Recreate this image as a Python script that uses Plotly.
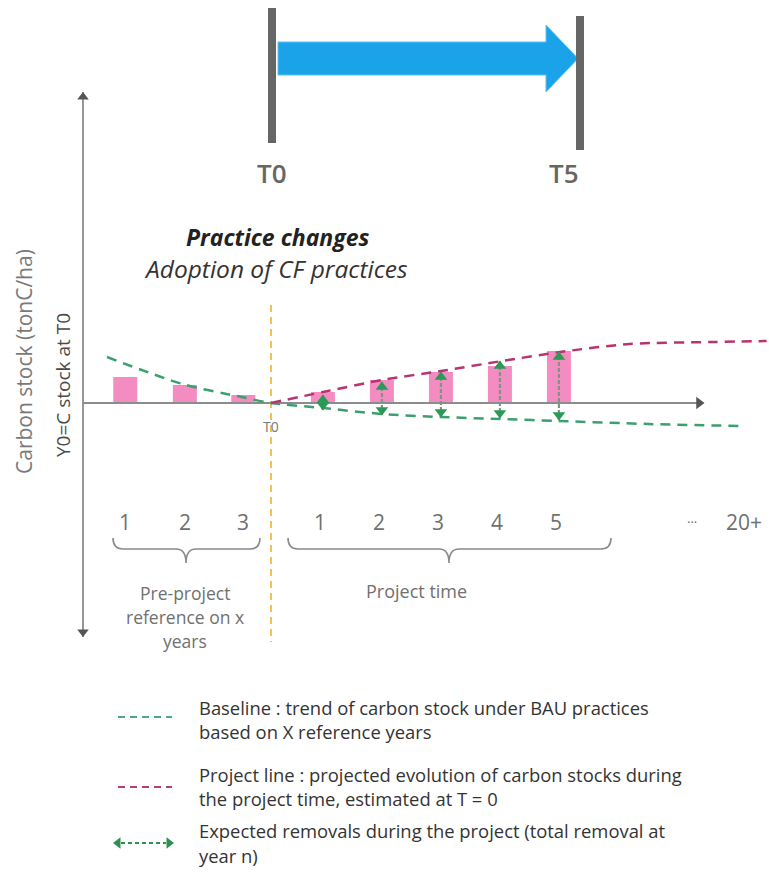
import plotly.graph_objects as go

# ---------------- data ----------------
pre_labels = ["1", "2", "3"]
pre_x = [-2.47, -1.46, -0.47]
pre_stock = [2.6, 1.8, 0.8]

proj_labels = ["1", "2", "3", "4", "5"]
proj_x = [0.88, 1.88, 2.88, 3.88, 4.88]
proj_stock = [1.1, 2.3, 3.1, 3.7, 5.2]

baseline_x = [-2.78, -1.5, -0.5, 0.0, 0.88, 1.88, 2.88, 3.88, 4.88, 6.4, 7.98]
baseline_y = [4.6, 1.9, 0.6, 0.0, -0.5, -1.1, -1.4, -1.6, -1.8, -2.1, -2.3]

project_x = [0.0, 0.88, 1.88, 2.88, 3.92, 4.9, 6.08, 7.49, 8.4]
project_y = [0.0, 1.1, 2.3, 3.2, 4.2, 5.1, 5.9, 6.1, 6.2]

removal_low = [-0.7, -1.2, -1.4, -1.5, -1.7]
removal_high = [0.8, 2.1, 3.1, 4.2, 5.1]

far_labels = ["...", "20+"]
far_x = [7.14, 8.02]

legend_texts = [
    ["Baseline : trend of carbon stock under BAU practices", "based on X reference years"],
    ["Project line : projected evolution of carbon stocks during", "the project time, estimated at T = 0"],
    ["Expected removals during the project (total removal at", "year n)"],
]

# ---------------- pixel helpers (layout only) ----------------
W, H = 769, 872
X0, XS, Y0, YS = 271.0, 59.0, 403.0, 10.0


def X(px):
    return (px - X0) / XS


def Y(py):
    return (Y0 - py) / YS


GREEN = "#3c9f6e"
GREEN_ARROW = "#2a9a55"
MAGENTA = "#b8336f"
PINK = "#f38cc0"
YELLOW = "#f2c14e"
AXIS = "#8c8c8c"
AXIS_DARK = "#555555"
LABEL = "#707070"
BLUE = "#1aa3e8"

fig = go.Figure()

# bars
fig.add_trace(go.Bar(x=pre_x, y=pre_stock, width=24 / XS, marker_color=PINK,
                     marker_line_width=0, hoverinfo="skip"))
fig.add_trace(go.Bar(x=proj_x, y=proj_stock, width=24 / XS, marker_color=PINK,
                     marker_line_width=0, hoverinfo="skip"))

# horizontal axis line + arrow
fig.add_trace(go.Scatter(x=[X(83), X(700)], y=[0, 0], mode="lines",
                         line=dict(color=AXIS, width=1.8), hoverinfo="skip"))
fig.add_trace(go.Scatter(x=[X(699)], y=[0], mode="markers",
                         marker=dict(symbol="triangle-right", size=11, color=AXIS_DARK),
                         hoverinfo="skip"))
# vertical axis line + arrows
fig.add_trace(go.Scatter(x=[X(83), X(83)], y=[Y(92), Y(637)], mode="lines",
                         line=dict(color=AXIS, width=1.8), hoverinfo="skip"))
fig.add_trace(go.Scatter(x=[X(83), X(83)], y=[Y(97), Y(632)], mode="markers",
                         marker=dict(symbol=["triangle-up", "triangle-down"], size=10,
                                     color=AXIS_DARK),
                         hoverinfo="skip"))

# T0 yellow dashed line
fig.add_trace(go.Scatter(x=[0, 0], y=[Y(305), Y(642)], mode="lines",
                         line=dict(color=YELLOW, width=2, dash="7px,5px"), hoverinfo="skip"))

# baseline and project curves
fig.add_trace(go.Scatter(x=baseline_x, y=baseline_y, mode="lines",
                         line=dict(color=GREEN, width=2.5, dash="10px,7px", shape="spline",
                                   smoothing=0.8),
                         hoverinfo="skip"))
fig.add_trace(go.Scatter(x=project_x, y=project_y, mode="lines",
                         line=dict(color=MAGENTA, width=2.5, dash="10px,7px", shape="spline",
                                   smoothing=0.8),
                         hoverinfo="skip"))

# removal arrows
for xv, lo, hi in zip(proj_x, removal_low, removal_high):
    fig.add_trace(go.Scatter(x=[xv, xv], y=[lo, hi], mode="lines",
                             line=dict(color="#7f9487", width=2.2, dash="4px,2px"),
                             hoverinfo="skip"))
    fig.add_trace(go.Scatter(x=[xv, xv], y=[lo + 0.5, hi - 0.5], mode="markers",
                             marker=dict(symbol=["triangle-down", "triangle-up"], size=11,
                                         color=GREEN_ARROW),
                             hoverinfo="skip"))

shapes = []
annotations = []

# top timeline: blue arrow and grey bars
arrow_path = (f"M {X(278)} {Y(42)} L {X(546)} {Y(42)} L {X(546)} {Y(25)} "
              f"L {X(578)} {Y(58.5)} L {X(546)} {Y(92)} L {X(546)} {Y(75)} "
              f"L {X(278)} {Y(75)} Z")
shapes.append(dict(type="path", path=arrow_path, xref="x", yref="y",
                   fillcolor=BLUE, line=dict(color="#5cc2f2", width=1)))
shapes.append(dict(type="rect", xref="x", yref="y", x0=X(268), x1=X(276), y0=Y(143), y1=Y(8),
                   fillcolor="#666666", line_width=0))
shapes.append(dict(type="rect", xref="x", yref="y", x0=X(576), x1=X(584), y0=Y(150), y1=Y(16),
                   fillcolor="#666666", line_width=0))

annotations.append(dict(x=X(272), y=Y(173), text="T0", showarrow=False, xref="x", yref="y",
                        font=dict(family="Open Sans", size=26, color="#666666", weight=600)))
annotations.append(dict(x=X(564), y=Y(173), text="T5", showarrow=False, xref="x", yref="y",
                        font=dict(family="Open Sans", size=26, color="#666666", weight=600)))

annotations.append(dict(x=X(277), y=Y(237), text="<b><i>Practice changes</i></b>", showarrow=False,
                        xref="x", yref="y",
                        font=dict(family="Open Sans", size=23, color="#222222")))
annotations.append(dict(x=X(276), y=Y(268), text="<i>Adoption of CF practices</i>", showarrow=False,
                        xref="x", yref="y",
                        font=dict(family="Open Sans", size=24.5, color="#333333")))

# axis titles
annotations.append(dict(x=X(24), y=Y(362), text="Carbon stock (tonC/ha)", showarrow=False,
                        xref="x", yref="y", textangle=-90,
                        font=dict(family="Open Sans", size=21, color="#7a7a7a")))
annotations.append(dict(x=X(63), y=Y(385), text="Y0=C stock at T0", showarrow=False,
                        xref="x", yref="y", textangle=-90,
                        font=dict(family="Open Sans", size=19, color="#4a4a4a")))

# T0 small label
annotations.append(dict(x=0, y=Y(426), text="T0", showarrow=False, xref="x", yref="y",
                        font=dict(family="Open Sans", size=14, color="#777777")))

# year labels
for xv, t in zip(pre_x, pre_labels):
    annotations.append(dict(x=xv, y=Y(522), text=t, showarrow=False, xref="x", yref="y",
                            font=dict(family="Open Sans", size=21, color=LABEL)))
for xv, t in zip(proj_x, proj_labels):
    annotations.append(dict(x=xv - 0.05, y=Y(522), text=t, showarrow=False, xref="x", yref="y",
                            font=dict(family="Open Sans", size=21, color=LABEL)))
annotations.append(dict(x=far_x[0], y=Y(518), text=far_labels[0], showarrow=False, xref="x",
                        yref="y", font=dict(family="Open Sans", size=13, color=LABEL)))
annotations.append(dict(x=far_x[1], y=Y(522), text=far_labels[1], showarrow=False, xref="x",
                        yref="y", font=dict(family="Open Sans", size=21, color=LABEL)))


# braces
def brace(x0px, x1px, xmpx, ytop, yline, ytip):
    r = 10
    p = (f"M {X(x0px)} {Y(ytop)} Q {X(x0px)} {Y(yline)} {X(x0px + r)} {Y(yline)} "
         f"L {X(xmpx - r)} {Y(yline)} Q {X(xmpx)} {Y(yline)} {X(xmpx)} {Y(ytip)} "
         f"Q {X(xmpx)} {Y(yline)} {X(xmpx + r)} {Y(yline)} "
         f"L {X(x1px - r)} {Y(yline)} Q {X(x1px)} {Y(yline)} {X(x1px)} {Y(ytop)}")
    return dict(type="path", path=p, xref="x", yref="y", line=dict(color="#8a8a8a", width=1.6))


shapes.append(brace(113, 260, 186, 538, 549, 563))
shapes.append(brace(288, 611, 449, 538, 549, 563))

for i, t in enumerate(["Pre-project", "reference on x", "years"]):
    annotations.append(dict(x=X(185), y=Y(593 + 24 * i), text=t, showarrow=False, xref="x",
                            yref="y", font=dict(family="Open Sans", size=17.5, color=LABEL)))
annotations.append(dict(x=X(416), y=Y(591), text="Project time", showarrow=False, xref="x",
                        yref="y", font=dict(family="Open Sans", size=18, color=LABEL)))

# legend
leg_y = [717, 787, 843]
shapes.append(dict(type="line", xref="x", yref="y", x0=X(118), x1=X(172), y0=Y(leg_y[0]),
                   y1=Y(leg_y[0]), line=dict(color="#4fa886", width=2.2, dash="7px,5px")))
shapes.append(dict(type="line", xref="x", yref="y", x0=X(118), x1=X(172), y0=Y(leg_y[1]),
                   y1=Y(leg_y[1]), line=dict(color="#b0407a", width=2.2, dash="7px,5px")))
fig.add_trace(go.Scatter(x=[X(121), X(166)], y=[Y(leg_y[2]), Y(leg_y[2])], mode="lines",
                         line=dict(color="#2e8f55", width=2, dash="4px,3px"), hoverinfo="skip"))
fig.add_trace(go.Scatter(x=[X(118), X(169)], y=[Y(leg_y[2]), Y(leg_y[2])], mode="markers",
                         marker=dict(symbol=["triangle-left", "triangle-right"], size=10,
                                     color="#2e8f55"), hoverinfo="skip"))

text_y = [[707, 731], [774, 798], [830, 855]]
for lines, ys in zip(legend_texts, text_y):
    for t, yy in zip(lines, ys):
        annotations.append(dict(x=X(197), y=Y(yy), text=t, showarrow=False, xref="x", yref="y",
                                xanchor="left",
                                font=dict(family="Open Sans", size=18.4, color="#333333")))

fig.update_layout(
    width=W, height=H,
    margin=dict(l=0, r=0, t=0, b=0),
    paper_bgcolor="white", plot_bgcolor="white",
    showlegend=False,
    barmode="overlay",
    xaxis=dict(range=[X(0), X(W)], visible=False, fixedrange=True),
    yaxis=dict(range=[Y(H), Y(0)], visible=False, fixedrange=True),
    shapes=shapes,
    annotations=annotations,
)

fig.write_html("out.html", config={"displayModeBar": False},
               post_script="document.body.style.margin='0';document.body.style.overflow='hidden';")
